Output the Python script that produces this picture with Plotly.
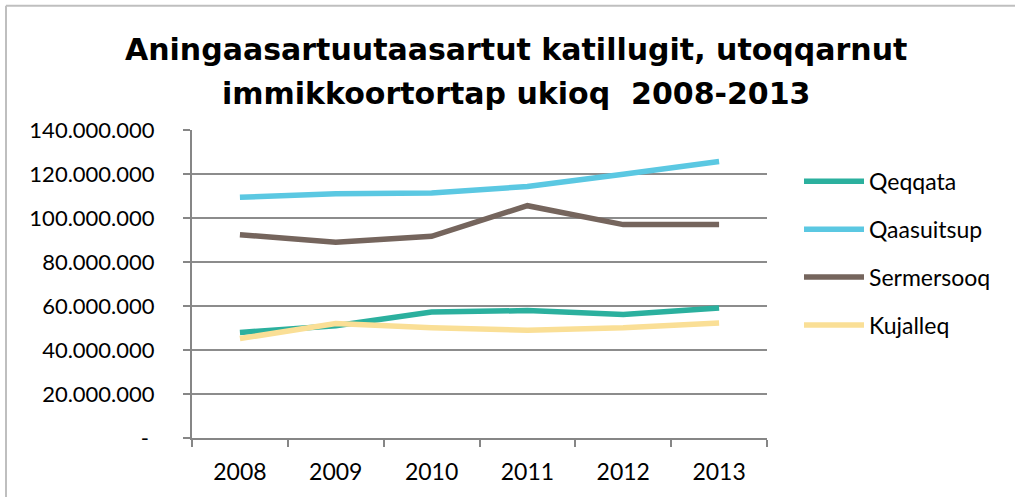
import plotly.graph_objects as go

years = ["2008", "2009", "2010", "2011", "2012", "2013"]
qeqqata = [48.0e6, 51.0e6, 57.3e6, 57.9e6, 56.1e6, 59.1e6]
qaasuitsup = [109.4e6, 111.0e6, 111.4e6, 114.3e6, 119.9e6, 125.7e6]
sermersooq = [92.4e6, 89.0e6, 91.7e6, 105.6e6, 97.0e6, 97.0e6]
kujalleq = [45.2e6, 52.0e6, 50.1e6, 49.0e6, 50.1e6, 52.3e6]

series_names = ["Qeqqata", "Qaasuitsup", "Sermersooq", "Kujalleq"]
series_colors = ["#2BB09E", "#5BC8E2", "#75655D", "#FADF96"]
series_values = [qeqqata, qaasuitsup, sermersooq, kujalleq]

title_lines = ["Aningaasartuutaasartut katillugit, utoqqarnut",
               "immikkoortortap ukioq  2008-2013"]

y_ticks = [0, 20e6, 40e6, 60e6, 80e6, 100e6, 120e6, 140e6]
y_ticktext = ["-\u00a0"] + ["{:,.0f}".format(v).replace(",", ".") for v in y_ticks[1:]]

FONT = "Lato"
W, H = 1015, 497
L, R, T, B = 192, 248, 130, 57
PW, PH = W - L - R, H - T - B


def px(x):
    return (x - L) / PW


def py(y):
    return (H - B - y) / PH


fig = go.Figure()
for i, (name, color, vals) in enumerate(zip(series_names, series_colors, series_values)):
    fig.add_trace(go.Scatter(x=years, y=vals, mode="lines", name=name,
                             legendgroup="g%d" % i,
                             line=dict(color=color, width=5.5)))

fig.update_layout(
    width=W, height=H,
    paper_bgcolor="white", plot_bgcolor="white",
    margin=dict(l=L, r=R, t=T, b=B),
    font=dict(family=FONT, size=22, color="black"),
    showlegend=True,
    legend=dict(x=px(799), y=py(160), xanchor="left", yanchor="top",
                font=dict(family=FONT, size=23, color="black"),
                tracegroupgap=15, itemwidth=60, bgcolor="rgba(0,0,0,0)"),
    xaxis=dict(type="category", showgrid=False, showline=True, linecolor="#868686",
               linewidth=2, ticks="outside", tickson="boundaries", ticklen=7,
               tickcolor="#868686", tickwidth=2, range=[-0.5, 5.5],
               ticklabelstandoff=12,
               tickfont=dict(family=FONT, size=23)),
    yaxis=dict(range=[0, 140e6], tickvals=y_ticks, ticktext=y_ticktext,
               showgrid=True, gridcolor="#8C8C8C", gridwidth=1.6,
               showline=True, linecolor="#868686", linewidth=2,
               ticks="outside", ticklen=7, tickcolor="#868686", tickwidth=2,
               ticklabelstandoff=24,
               zeroline=False, tickfont=dict(family=FONT, size=22)),
    annotations=[
        dict(text="<b>%s</b>" % title_lines[0], xref="paper", yref="paper",
             x=px(516), y=py(49), xanchor="center", yanchor="middle", showarrow=False,
             font=dict(family="DejaVu Sans", size=30, color="black")),
        dict(text="<b>%s</b>" % title_lines[1], xref="paper", yref="paper",
             x=px(515.5), y=py(93), xanchor="center", yanchor="middle", showarrow=False,
             font=dict(family="DejaVu Sans", size=30, color="black")),
    ],
    shapes=[
        dict(type="line", xref="paper", yref="paper", x0=px(6), x1=px(6), y0=py(5), y1=py(520),
             line=dict(color="#BFBFBF", width=2)),
        dict(type="line", xref="paper", yref="paper", x0=px(6), x1=px(1030), y0=py(5), y1=py(5),
             line=dict(color="#BFBFBF", width=2)),
    ],
)

fig.write_html("out.html", config={"displayModeBar": False},
               post_script="document.body.style.margin='0';")
